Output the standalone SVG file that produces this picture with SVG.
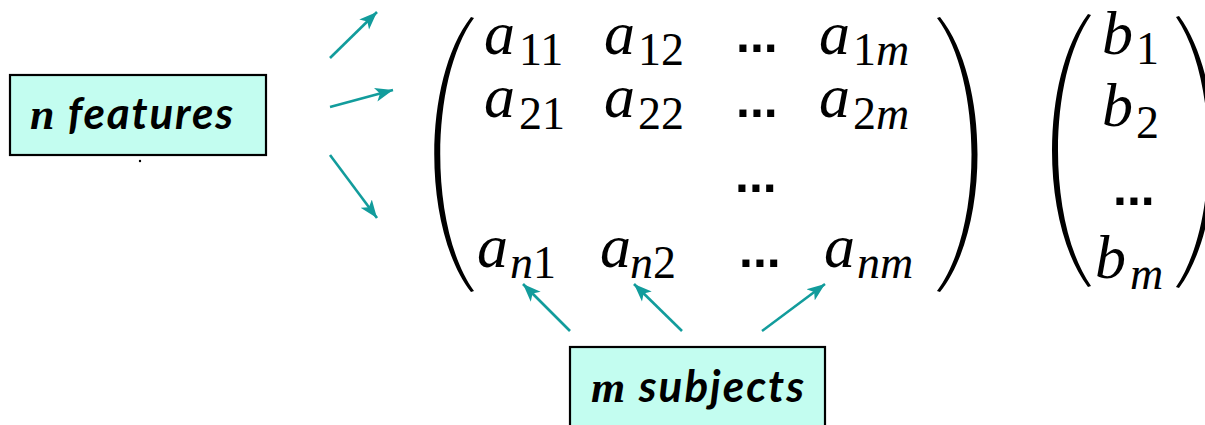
<svg xmlns="http://www.w3.org/2000/svg" width="1205" height="425" viewBox="0 0 1205 425">
<defs>
<style>
.box{fill:#c3fdf0;stroke:#000;stroke-width:2.2}
.lbl{font-family:Lato,"Open Sans",sans-serif;font-weight:bold;font-style:italic;font-size:44px;fill:#000}
.mv{font-family:"Liberation Serif",serif;font-style:italic}
.m{font-family:"Liberation Serif",serif;font-style:italic;font-size:62px;fill:#000}
.s{font-size:46px}
.d{font-style:normal}
.dots{font-family:"Liberation Sans",Arial,sans-serif;font-weight:bold;font-size:50px;fill:#000}
.par{fill:#000}
.con line{stroke:#129c9c;stroke-width:2.6;marker-end:url(#ah)}
</style>
<marker id="ah" markerUnits="userSpaceOnUse" markerWidth="19" markerHeight="15" refX="18" refY="7" orient="auto" viewBox="0 0 19 14">
<path d="M0,0 L18,7 L0,14 L4.5,7 Z" fill="#129c9c"/>
</marker>
</defs>
<rect width="1205" height="425" fill="#fff"/>

<g id="node-features">
<rect class="box" x="10" y="75" width="256" height="80"/>
<text class="lbl" x="30" y="129" textLength="203" lengthAdjust="spacing"><tspan class="mv">n</tspan> features</text>
<circle cx="140" cy="161" r="1.2" fill="#000"/>
</g>

<g id="node-subjects">
<rect class="box" x="570" y="347" width="255" height="95"/>
<text class="lbl" x="591" y="402" textLength="213" lengthAdjust="spacing"><tspan class="mv">m</tspan> subjects</text>
</g>

<g id="matrix-A">
<path class="par" d="M471,17 C422,80 422,229 471,292 L474,291 C429,229 429,80 474,18 Z"/>
<path class="par" d="M940,17 C990,80 990,229 940,292 L937,291 C983,229 983,80 937,18 Z"/>
<text class="m" x="484" y="54">a<tspan class="s d" x="519" y="65">11</tspan></text>
<text class="m" x="604" y="54">a<tspan class="s d" x="638" y="65">12</tspan></text>
<text class="dots" x="736" y="52">...</text>
<text class="m" x="819" y="54">a<tspan class="s d" x="853" y="65">1</tspan><tspan class="s" y="65">m</tspan></text>
<text class="m" x="484" y="117">a<tspan class="s d" x="519" y="129">21</tspan></text>
<text class="m" x="604" y="117">a<tspan class="s d" x="638" y="129">22</tspan></text>
<text class="dots" x="736" y="117">...</text>
<text class="m" x="819" y="117">a<tspan class="s d" x="853" y="129">2</tspan><tspan class="s" y="129">m</tspan></text>
<text class="dots" x="735" y="192">...</text>
<text class="m" x="477" y="267">a<tspan class="s" x="510" y="278">n</tspan><tspan class="s d" y="278">1</tspan></text>
<text class="m" x="600" y="267">a<tspan class="s" x="630" y="278">n</tspan><tspan class="s d" y="278">2</tspan></text>
<text class="dots" x="739" y="267">...</text>
<text class="m" x="824" y="267">a<tspan class="s" x="857" y="278">nm</tspan></text>
</g>

<g id="vector-b">
<path class="par" d="M1088,14 C1040,78 1040,223 1088,287 L1091,286 C1047,223 1047,78 1091,15 Z"/>
<path class="par" d="M1179,16 C1226,80 1226,224 1179,288 L1176,287 C1219,224 1219,80 1176,17 Z"/>
<text class="m" x="1102" y="54">b<tspan class="s d" x="1136" y="64">1</tspan></text>
<text class="m" x="1102" y="126">b<tspan class="s d" x="1136" y="138">2</tspan></text>
<text class="dots" x="1113" y="205">...</text>
<text class="m" x="1095" y="278">b</text>
<text class="m s" x="1130" y="289">m</text>
</g>

<g id="connectors" class="con">
<line x1="330" y1="58" x2="377" y2="12"/>
<line x1="330" y1="107" x2="393" y2="90"/>
<line x1="330" y1="155" x2="377" y2="218"/>
<line x1="570" y1="331" x2="523" y2="284"/>
<line x1="682" y1="331" x2="634" y2="284"/>
<line x1="762" y1="331" x2="825" y2="284"/>
</g>
</svg>
